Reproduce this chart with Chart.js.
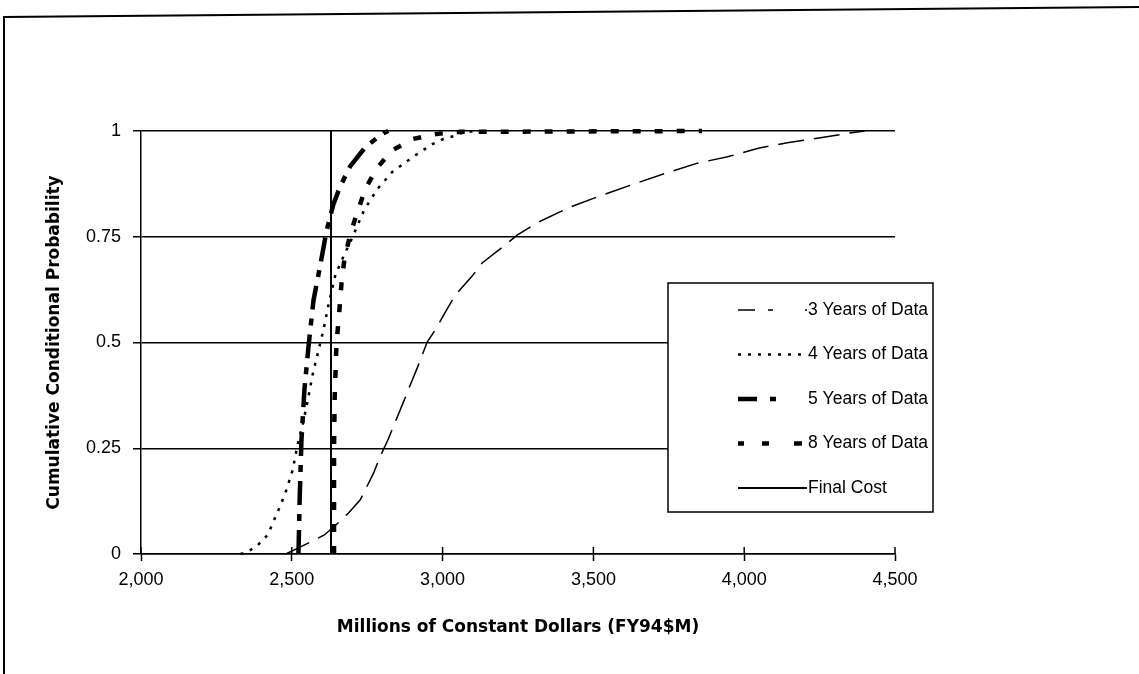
<!DOCTYPE html>
<html>
<head>
<meta charset="utf-8">
<script src="https://cdn.jsdelivr.net/npm/chart.js@4.4.1/dist/chart.umd.min.js"></script>
<style>
  html, body { margin: 0; padding: 0; background: #fff; }
  canvas { display: block; }
</style>
</head>
<body>
<canvas id="myChart" width="1139" height="674"></canvas>
<script>
// values
var xTicks = [2000, 2500, 3000, 3500, 4000, 4500];
var xTickLabels = ['2,000', '2,500', '3,000', '3,500', '4,000', '4,500'];
var yTicks = [0, 0.25, 0.5, 0.75, 1];
var yTickLabels = ['0', '0.25', '0.5', '0.75', '1'];

var seriesNames = ['3 Years of Data', '4 Years of Data', '5 Years of Data', '8 Years of Data', 'Final Cost'];

var years3X = [2480, 2529, 2608, 2661, 2688, 2727, 2771, 2794, 2820, 2870, 2890, 2916, 2949, 2982, 3009, 3042, 3098, 3131, 3207, 3247, 3313, 3422, 3531, 3644, 3743, 3845, 3945, 4050, 4143, 4242, 4348, 4400];
var years3Y = [0, 0.017, 0.045, 0.078, 0.097, 0.128, 0.191, 0.232, 0.272, 0.359, 0.395, 0.44, 0.501, 0.537, 0.572, 0.612, 0.657, 0.688, 0.73, 0.754, 0.783, 0.82, 0.849, 0.877, 0.901, 0.924, 0.939, 0.96, 0.972, 0.983, 0.995, 1];

var years4X = [2330, 2354, 2387, 2420, 2446, 2463, 2480, 2503, 2519, 2536, 2552, 2569, 2589, 2605, 2622, 2645, 2675, 2698, 2741, 2784, 2833, 2900, 2966, 3002, 3038, 3070, 3110];
var years4Y = [0, 0.005, 0.021, 0.045, 0.088, 0.116, 0.147, 0.199, 0.258, 0.306, 0.36, 0.424, 0.483, 0.53, 0.59, 0.661, 0.709, 0.744, 0.815, 0.863, 0.903, 0.938, 0.969, 0.981, 0.988, 0.997, 1];

var years5X = [2522, 2524, 2526, 2532, 2542, 2556, 2572, 2595, 2615, 2638, 2661, 2694, 2744, 2804, 2820];
var years5Y = [0, 0.06, 0.128, 0.27, 0.39, 0.495, 0.6, 0.685, 0.763, 0.827, 0.87, 0.917, 0.962, 0.995, 1];

var years8X = [2640, 2640, 2642, 2648, 2658, 2665, 2675, 2694, 2718, 2744, 2780, 2830, 2900, 2979, 3058, 3860];
var years8Y = [0, 0.246, 0.365, 0.495, 0.578, 0.642, 0.70, 0.756, 0.81, 0.863, 0.91, 0.953, 0.981, 0.993, 0.998, 1];

var finalCostX = [2630, 2630];
var finalCostY = [0, 1];

function toPoints(xs, ys) {
    return xs.map(function(x, i) { return {x: x, y: ys[i]}; });
}

// white page plus the scanned frame (top + left edge)
var paper = {
    id: 'paper',
    beforeDraw: function(chart) {
        var ctx = chart.ctx;
        ctx.save();
        ctx.fillStyle = '#fff';
        ctx.fillRect(0, 0, chart.width, chart.height);
        ctx.restore();
    },
    afterDraw: function(chart) {
        var ctx = chart.ctx;
        ctx.save();
        ctx.strokeStyle = '#000';
        ctx.lineWidth = 2;
        ctx.beginPath();
        ctx.moveTo(4, chart.height);
        ctx.lineTo(4, 17);
        ctx.lineTo(chart.width, 7);
        ctx.stroke();
        ctx.restore();
    }
};

// x ticks cross the axis, so add the part above it
var innerTicks = {
    id: 'innerTicks',
    afterDraw: function(chart) {
        var ctx = chart.ctx;
        var xs = chart.scales.x;
        var bottom = chart.chartArea.bottom;
        ctx.save();
        ctx.strokeStyle = '#000';
        ctx.lineWidth = 1.5;
        xTicks.forEach(function(v) {
            var px = xs.getPixelForValue(v);
            ctx.beginPath();
            ctx.moveTo(px, bottom);
            ctx.lineTo(px, bottom - 7);
            ctx.stroke();
        });
        ctx.restore();
    }
};

var boxLegend = {
    id: 'boxLegend',
    afterDraw: function(chart) {
        var ctx = chart.ctx;
        var bx = 668, by = 283, bw = 265, bh = 229;
        ctx.save();
        ctx.fillStyle = '#fff';
        ctx.fillRect(bx, by, bw, bh);
        ctx.strokeStyle = '#000';
        ctx.lineWidth = 1.5;
        ctx.strokeRect(bx, by, bw, bh);
        chart.data.datasets.forEach(function(ds, i) {
            var y = by + 27 + i * 44.5;
            ctx.beginPath();
            ctx.setLineDash(ds.legendDash || []);
            ctx.lineWidth = ds.borderWidth;
            ctx.strokeStyle = '#000';
            ctx.moveTo(738, y);
            ctx.lineTo(807, y);
            ctx.stroke();
            ctx.setLineDash([]);
            ctx.fillStyle = '#000';
            ctx.font = '17.5px "Liberation Sans"';
            ctx.textBaseline = 'middle';
            ctx.textAlign = 'left';
            ctx.fillText(ds.label, 808, y);
        });
        ctx.restore();
    }
};

var ctx = document.getElementById('myChart').getContext('2d');
var chart = new Chart(ctx, {
    type: 'scatter',
    data: {
        datasets: [{
            label: seriesNames[0],
            data: toPoints(years3X, years3Y),
            borderColor: '#000',
            borderWidth: 1.5,
            borderDash: [26, 10],
            legendDash: [17, 13, 5, 32, 2, 100]
        }, {
            label: seriesNames[1],
            data: toPoints(years4X, years4Y),
            borderColor: '#000',
            borderWidth: 2.5,
            borderDash: [3, 7],
            legendDash: [3, 7]
        }, {
            label: seriesNames[2],
            data: toPoints(years5X, years5Y),
            borderColor: '#000',
            borderWidth: 4.5,
            borderDash: [24, 9, 7, 9],
            legendDash: [19, 13, 6, 100]
        }, {
            label: seriesNames[3],
            data: toPoints(years8X, years8Y),
            borderColor: '#000',
            borderWidth: 4.5,
            borderDash: [8, 14],
            legendDash: [6, 18, 7, 25, 8, 100]
        }, {
            label: seriesNames[4],
            data: toPoints(finalCostX, finalCostY),
            borderColor: '#000',
            borderWidth: 2,
            legendDash: []
        }]
    },
    options: {
        responsive: false,
        animation: false,
        devicePixelRatio: 1,
        showLine: true,
        clip: 8,
        elements: {
            point: { radius: 0, hoverRadius: 0 },
            line: { tension: 0, fill: false }
        },
        layout: { padding: { left: 0, top: 131, right: 244, bottom: 0 } },
        plugins: {
            legend: { display: false },
            tooltip: { enabled: false }
        },
        scales: {
            x: {
                type: 'linear',
                position: 'bottom',
                min: 2000,
                max: 4500,
                afterBuildTicks: function(scale) {
                    scale.ticks = xTicks.map(function(v) { return {value: v}; });
                },
                afterFit: function(scale) { scale.height = 120; },
                grid: { drawOnChartArea: false, drawTicks: true, tickLength: 7, tickColor: '#000', tickWidth: 1.5 },
                border: { color: '#000', width: 1.5 },
                ticks: {
                    color: '#000',
                    font: { family: 'Liberation Sans', size: 18 },
                    padding: 8,
                    maxRotation: 0,
                    autoSkip: false,
                    callback: function(v) { return xTickLabels[xTicks.indexOf(v)]; }
                },
                title: {
                    display: true,
                    text: 'Millions of Constant Dollars (FY94$M)',
                    color: '#000',
                    font: { family: 'DejaVu Sans', size: 17, weight: 'bold' },
                    padding: { top: 0, bottom: 36 }
                }
            },
            y: {
                min: 0,
                max: 1,
                afterBuildTicks: function(scale) {
                    scale.ticks = yTicks.map(function(v) { return {value: v}; });
                },
                afterFit: function(scale) { scale.width = 141; },
                grid: { color: '#000', lineWidth: 1.5, drawTicks: true, tickLength: 8, tickColor: '#000' },
                border: { color: '#000', width: 1.5 },
                ticks: {
                    color: '#000',
                    font: { family: 'Liberation Sans', size: 18 },
                    padding: 12,
                    callback: function(v) { return yTickLabels[yTicks.indexOf(v)]; }
                },
                title: {
                    display: true,
                    text: 'Cumulative Conditional Probability',
                    color: '#000',
                    font: { family: 'DejaVu Sans', size: 17, weight: 'bold' },
                    padding: { top: 44, bottom: 0 }
                }
            }
        }
    },
    plugins: [paper, innerTicks, boxLegend]
});
</script>
</body>
</html>
